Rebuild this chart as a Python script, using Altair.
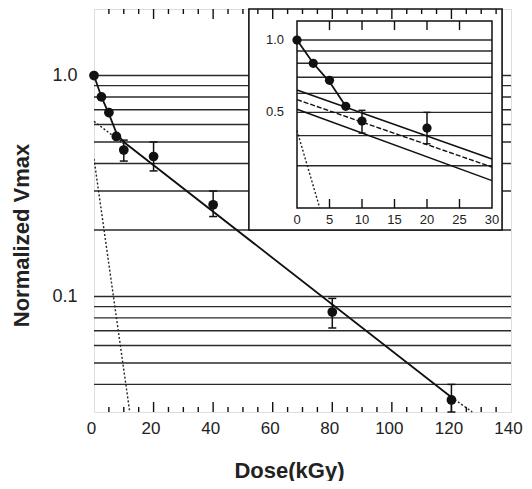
import altair as alt
import pandas as pd

# ---------------- data ----------------
dose = [0, 2.5, 5, 7.5, 10, 20, 40, 80, 120]
vmax = [1.0, 0.80, 0.68, 0.53, 0.46, 0.43, 0.26, 0.085, 0.034]
err_lo = [1.0, 0.80, 0.68, 0.53, 0.41, 0.37, 0.23, 0.072, 0.030]
err_hi = [1.0, 0.80, 0.68, 0.53, 0.51, 0.50, 0.30, 0.098, 0.040]

# two-component fit (sum) and its parts, main panel
fit_dose = [0, 2.5, 5, 7.5, 10, 120]
fit_v = [1.0, 0.80, 0.67, 0.55, 0.50, 0.035]
slow_extrap_dose = [0, 10]
slow_extrap_v = [0.62, 0.49]
tail_dose = [120, 127]
tail_v = [0.035, 0.030]
fast_dose = [0, 12]
fast_v = [0.42, 0.03]

main_grid = [0.04, 0.05, 0.06, 0.07, 0.08, 0.09, 0.1,
             0.2, 0.3, 0.4, 0.5, 0.6, 0.7, 0.8, 0.9, 1.0]
x_labels = [0, 20, 40, 60, 80, 100, 120, 140]
y_labels = [0.1, 1.0]
minor_ticks = [5, 10, 15, 25, 30, 35, 45, 50, 55, 65, 70, 75, 85, 90, 95,
               105, 110, 115, 125, 130, 135]
major_ticks = [20, 40, 60, 80, 100, 120]

# inset box position in main data coords
inset_box_x = [52, 137]
inset_box_y = [0.2, 2.0]

# inset panel
inset_grid = [0.3, 0.4, 0.5, 0.6, 0.7, 0.8, 0.9, 1.0]
inset_x_labels = [0, 5, 10, 15, 20, 25, 30]
inset_y_labels = [0.5, 1.0]
inset_ticks = [5, 10, 15, 20, 25]
inset_curve_dose = [0, 2.5, 5, 7.5]
inset_curve_v = [1.0, 0.80, 0.67, 0.53]
band_dose = [0, 30]
band_top = [0.62, 0.32]
band_mid = [0.565, 0.296]
band_bot = [0.515, 0.26]
inset_fast_dose = [0, 3.5]
inset_fast_v = [0.42, 0.2]

# ---------------- tables ----------------
pts = pd.DataFrame({"dose": dose, "v": vmax, "lo": err_lo, "hi": err_hi})
errs = pts[pts["hi"] > pts["lo"]]
pts_in = pts[pts["dose"] <= 30]
errs_in = errs[errs["dose"] <= 30]


def line_df(xs, ys):
    return pd.DataFrame({"dose": xs, "v": ys})


FONT = "Liberation Sans"
X = alt.Scale(domain=[0, 140], nice=False)
Y = alt.Scale(type="log", domain=[0.03, 2.0], nice=False)
XAX = alt.Axis(values=x_labels, tickSize=0, domain=False, grid=False,
               labelFont=FONT, labelFontSize=17, labelColor="#222",
               labelPadding=8, labelFlush=False, labelOffset=-3,
               title="Dose(kGy)", titleFont=FONT, titleFontSize=22,
               titleFontWeight="bold", titleColor="#222",
               titleX=195, titleY=65, titleAlign="center",
               titleBaseline="alphabetic")
YAX = alt.Axis(values=y_labels, format=".1f", tickSize=0, domain=False,
               grid=False, labelFont=FONT, labelFontSize=18,
               labelColor="#222", labelPadding=17, labelFlush=False,
               title="Normalized Vmax", titleFont=FONT, titleFontSize=22,
               titleFontWeight="bold", titleColor="#222",
               titleX=-61, titleY=226, titleAngle=-90, titleAlign="center",
               titleBaseline="bottom")


def mx(field="dose"):
    return alt.X(f"{field}:Q", scale=X, axis=XAX)


def my(field="v"):
    return alt.Y(f"{field}:Q", scale=Y, axis=YAX)


# ---------------- main panel ----------------
grid = alt.Chart(pd.DataFrame({"v": main_grid})).mark_rule(
    color="#2a2a2a", strokeWidth=1.4).encode(y=my())

box = alt.Chart(pd.DataFrame({"x": [inset_box_x[0]], "x2": [inset_box_x[1]],
                              "y": [inset_box_y[0]], "y2": [inset_box_y[1]]})
                ).mark_rect(fill="white", stroke="#111", strokeWidth=1.6).encode(
    x=mx("x"), x2="x2:Q", y=my("y"), y2="y2:Q")

fit = alt.Chart(line_df(fit_dose, fit_v)).mark_line(
    color="#111", strokeWidth=1.8).encode(x=mx(), y=my())
slow = alt.Chart(line_df(slow_extrap_dose, slow_extrap_v)).mark_line(
    color="#222", strokeWidth=1.4, strokeDash=[2, 2]).encode(x=mx(), y=my())
tail = alt.Chart(line_df(tail_dose, tail_v)).mark_line(
    color="#222", strokeWidth=1.4, strokeDash=[2, 2]).encode(x=mx(), y=my())
fast = alt.Chart(line_df(fast_dose, fast_v)).mark_line(
    color="#222", strokeWidth=1.4, strokeDash=[2, 2], clip=True).encode(
    x=mx(), y=my())

ebar = alt.Chart(errs).mark_rule(color="#111", strokeWidth=1.5).encode(
    x=mx(), y=my("lo"), y2="hi:Q")
cap_lo = alt.Chart(errs).mark_tick(orient="horizontal", size=8, thickness=1.5,
                                   color="#111", opacity=1).encode(
    x=mx(), y=my("lo"))
cap_hi = alt.Chart(errs).mark_tick(orient="horizontal", size=8, thickness=1.5,
                                   color="#111", opacity=1).encode(
    x=mx(), y=my("hi"))
points = alt.Chart(pts).mark_point(filled=True, shape="circle", size=95,
                                   color="#111", opacity=1).encode(
    x=mx(), y=my())


def tick_layer(vals, size, yval, sign):
    return alt.Chart(pd.DataFrame({"dose": vals})).mark_tick(
        orient="vertical", size=size, thickness=1.4, color="#111",
        opacity=1, yOffset=sign * size / 2).encode(
        x=mx(), y=alt.YDatum(yval, scale=Y, axis=YAX))


ticks = [tick_layer(minor_ticks, 5, 0.03, -1), tick_layer(major_ticks, 10, 0.03, -1),
         tick_layer(minor_ticks, 5, 2.0, 1), tick_layer(major_ticks, 10, 2.0, 1)]

main = alt.layer(grid, fast, box, slow, fit, tail, ebar, cap_lo, cap_hi,
                 points, *ticks)

# ---------------- inset panel ----------------
IX = alt.Scale(domain=[0, 30], range=[203, 398], nice=False)
IY = alt.Scale(type="log", domain=[0.2, 1.2], range=[199, 12], nice=False)


def ix(field="dose"):
    return alt.X(f"{field}:Q", scale=IX, axis=None)


def iy(field="v"):
    return alt.Y(f"{field}:Q", scale=IY, axis=None)


one = pd.DataFrame({"a": [0]})

i_grid = alt.Chart(pd.DataFrame({"v": inset_grid})).mark_rule(
    color="#2a2a2a", strokeWidth=1.4).encode(
    y=iy(), x=alt.XDatum(0, scale=IX, axis=None), x2=alt.X2Datum(30))
i_frame = alt.Chart(one).mark_rect(fill=None, stroke="#111", strokeWidth=1.5).encode(
    x=alt.XDatum(0, scale=IX, axis=None), x2=alt.X2Datum(30),
    y=alt.YDatum(0.2, scale=IY, axis=None), y2=alt.Y2Datum(1.2))
i_fast = alt.Chart(line_df(inset_fast_dose, inset_fast_v)).mark_line(
    color="#222", strokeWidth=1.4, strokeDash=[2, 2]).encode(x=ix(), y=iy())
i_curve = alt.Chart(line_df(inset_curve_dose, inset_curve_v)).mark_line(
    color="#111", strokeWidth=1.8).encode(x=ix(), y=iy())
i_top = alt.Chart(line_df(band_dose, band_top)).mark_line(
    color="#111", strokeWidth=1.5).encode(x=ix(), y=iy())
i_mid = alt.Chart(line_df(band_dose, band_mid)).mark_line(
    color="#111", strokeWidth=1.4, strokeDash=[5, 2]).encode(x=ix(), y=iy())
i_bot = alt.Chart(line_df(band_dose, band_bot)).mark_line(
    color="#111", strokeWidth=1.5).encode(x=ix(), y=iy())
i_ebar = alt.Chart(errs_in).mark_rule(color="#111", strokeWidth=1.5).encode(
    x=ix(), y=iy("lo"), y2="hi:Q")
i_cap_lo = alt.Chart(errs_in).mark_tick(orient="horizontal", size=7, thickness=1.4,
                                        color="#111", opacity=1).encode(
    x=ix(), y=iy("lo"))
i_cap_hi = alt.Chart(errs_in).mark_tick(orient="horizontal", size=7, thickness=1.4,
                                        color="#111", opacity=1).encode(
    x=ix(), y=iy("hi"))
i_points = alt.Chart(pts_in).mark_point(filled=True, shape="circle", size=85,
                                        color="#111", opacity=1).encode(
    x=ix(), y=iy())


def i_tick(yval, sign):
    return alt.Chart(pd.DataFrame({"dose": inset_ticks})).mark_tick(
        orient="vertical", size=9, thickness=1.4, color="#111", opacity=1,
        yOffset=sign * 4.5).encode(
        x=ix(), y=alt.YDatum(yval, scale=IY, axis=None))


i_xlab = alt.Chart(pd.DataFrame({"dose": inset_x_labels})).mark_text(
    font=FONT, fontSize=13, color="#222", baseline="middle", dy=12).encode(
    x=ix(), y=alt.YDatum(0.2, scale=IY, axis=None),
    text=alt.Text("dose:Q", format="d"))
i_ylab = alt.Chart(pd.DataFrame({"v": inset_y_labels})).mark_text(
    font=FONT, fontSize=13, color="#222", baseline="middle", align="right",
    dx=-13).encode(
    y=iy(), x=alt.XDatum(0, scale=IX, axis=None),
    text=alt.Text("v:Q", format=".1f"))

inset = alt.layer(i_grid, i_frame, i_fast, i_curve, i_top, i_mid, i_bot,
                  i_ebar, i_cap_lo, i_cap_hi, i_points,
                  i_tick(1.2, 1), i_tick(0.2, -1), i_xlab, i_ylab)

chart = alt.layer(main, inset).resolve_scale(
    x="independent", y="independent"
).properties(
    width=417, height=403,
    padding={"left": 86, "top": 1, "right": 13, "bottom": 69},
    autosize=alt.AutoSizeParams(type="none"),
).configure_view(stroke="#111", strokeWidth=2).configure(background="white")

chart.save("out.html", embed_options={"renderer": "svg", "actions": False})
